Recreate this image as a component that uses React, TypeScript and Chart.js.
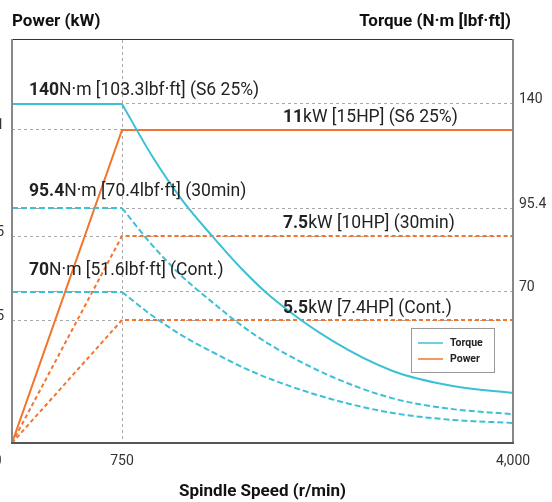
import React, { useEffect, useRef } from 'react';
import { Chart, registerables, LinearScale } from 'chart.js';

// ---- data ----
const SPEED = [0, 750, 1000, 1250, 1500, 1750, 2000, 2500, 3000, 3500, 4000];
const TORQUE_S6 = [140, 140, 117.7, 98.8, 86.9, 76.8, 67.2, 47.3, 33.4, 26.4, 23.2];
const TORQUE_30MIN = [95.4, 95.4, 84.2, 74.7, 65.3, 54.2, 44.9, 30.6, 20.7, 15.7, 13.4];
const TORQUE_CONT = [70, 70, 59.1, 49.8, 42.2, 35.2, 29.3, 20.2, 13.9, 10.7, 9.3];
const POWER_SPEED = [0, 750, 4000];
const POWER_S6 = [0, 11, 11];
const POWER_30MIN = [0, 7.5, 7.5];
const POWER_CONT = [0, 5.5, 5.5];
const SPEED_TICKS = [0, 750, 4000];
const TORQUE_TICKS = [70, 95.4, 140];
const POWER_TICKS = [5.5, 7.5, 11];

const TORQUE_LABELS = [
  { value: 140, bold: '140', rest: 'N·m [103.3lbf·ft] (S6 25%)' },
  { value: 95.4, bold: '95.4', rest: 'N·m [70.4lbf·ft] (30min)' },
  { value: 70, bold: '70', rest: 'N·m [51.6lbf·ft] (Cont.)' },
];
const POWER_LABELS = [
  { value: 11, bold: '11', rest: 'kW [15HP] (S6 25%)' },
  { value: 7.5, bold: '7.5', rest: 'kW [10HP] (30min)' },
  { value: 5.5, bold: '5.5', rest: 'kW [7.4HP] (Cont.)' },
];

// ---- styling / layout ----
const CYAN = '#3cc0d6';
const ORANGE = '#f3742c';
const FONT = "Roboto, 'DejaVu Sans', sans-serif";
const GRID = '#a8a8a8';
// value -> fraction of axis length (the reference axes are not linear)
const X_KNOTS = [[0, 0], [750, 0.2196], [4000, 1]];
const TORQUE_KNOTS = [[0, 0], [70, 0.3747], [95.4, 0.5831], [140, 0.8412], [170, 1]];
const POWER_KNOTS = [[0, 0], [5.5, 0.3052], [7.5, 0.5136], [11, 0.7767], [14.5, 1]];
const TORQUE_LABEL_OFF = [9, 12, 17];
const POWER_LABEL_OFF = [8, 8, 7];

function interp(k: number[][], v: number, from: number, to: number) {
  const n = k.length;
  let i = 0;
  while (i < n - 2 && v > k[i + 1][from]) i++;
  const a = k[i], b = k[i + 1];
  return a[to] + ((v - a[from]) * (b[to] - a[to])) / (b[from] - a[from]);
}

class PiecewiseScale extends LinearScale {
  static id = 'piecewise';
  static defaults = LinearScale.defaults;
  getPixelForValue(value: number) {
    const k = (this as any).options.knots as number[][];
    return (this as any).getPixelForDecimal(interp(k, value, 0, 1));
  }
  getValueForPixel(pixel: number) {
    const k = (this as any).options.knots as number[][];
    return interp(k, (this as any).getDecimalForPixel(pixel), 1, 0);
  }
}

Chart.register(...registerables, PiecewiseScale as any);

const pts = (xs: number[], ys: number[]) => xs.map((x, i) => ({ x, y: ys[i] }));

function torqueSets(label: string, ys: number[], dash: number[]) {
  const common = {
    label,
    yAxisID: 'torque',
    xAxisID: 'x',
    borderColor: CYAN,
    backgroundColor: CYAN,
    borderWidth: 2,
    borderDash: dash,
    pointRadius: 0,
    fill: false,
  };
  return [
    { ...common, data: pts(SPEED.slice(0, 2), ys.slice(0, 2)), tension: 0 },
    { ...common, data: pts(SPEED.slice(1), ys.slice(1)), cubicInterpolationMode: 'monotone' },
  ];
}
function powerSet(label: string, ys: number[], dash: number[]) {
  return {
    label,
    yAxisID: 'power',
    xAxisID: 'x',
    borderColor: ORANGE,
    backgroundColor: ORANGE,
    borderWidth: 2,
    borderDash: dash,
    pointRadius: 0,
    tension: 0,
    fill: false,
    data: pts(POWER_SPEED, ys),
  };
}

const decorPlugin = {
  id: 'decor',
  afterDatasetsDraw(chart: any) {
    const { ctx, chartArea: ca, scales } = chart;
    ctx.save();
    // frame
    ctx.setLineDash([]);
    ctx.lineWidth = 1;
    ctx.strokeStyle = '#333';
    ctx.beginPath();
    ctx.moveTo(ca.left, ca.top - 0.5);
    ctx.lineTo(ca.right, ca.top - 0.5);
    ctx.stroke();
    ctx.lineWidth = 2;
    ctx.strokeStyle = '#888';
    ctx.beginPath();
    ctx.moveTo(ca.left, ca.top - 1);
    ctx.lineTo(ca.left, ca.bottom);
    ctx.moveTo(ca.right, ca.top - 1);
    ctx.lineTo(ca.right, ca.bottom);
    ctx.stroke();
    ctx.strokeStyle = '#555';
    ctx.beginPath();
    ctx.moveTo(ca.left - 1, ca.bottom);
    ctx.lineTo(ca.right + 1, ca.bottom);
    ctx.stroke();

    // annotations
    const drawLabel = (x: number, y: number, bold: string, rest: string) => {
      ctx.fillStyle = '#222';
      ctx.textBaseline = 'alphabetic';
      ctx.textAlign = 'left';
      ctx.font = `bold 17.5px ${FONT}`;
      ctx.fillText(bold, x, y);
      const w = ctx.measureText(bold).width;
      ctx.font = `17.5px ${FONT}`;
      ctx.fillText(rest, x + w, y);
    };
    TORQUE_LABELS.forEach((l, i) => {
      const y = scales.torque.getPixelForValue(l.value) - TORQUE_LABEL_OFF[i];
      drawLabel(ca.left + 17, y, l.bold, l.rest);
    });
    POWER_LABELS.forEach((l, i) => {
      const y = scales.power.getPixelForValue(l.value) - POWER_LABEL_OFF[i];
      drawLabel(ca.left + 271, y, l.bold, l.rest);
    });

    // titles
    ctx.fillStyle = '#111';
    ctx.font = `bold 17px ${FONT}`;
    ctx.textAlign = 'left';
    ctx.fillText('Power (kW)', ca.left, 26);
    ctx.textAlign = 'right';
    ctx.fillText('Torque (N·m [lbf·ft])', ca.right - 2, 26);

    // legend
    const bx = ca.right - 19 - 83;
    const by = ca.bottom - 115;
    ctx.fillStyle = '#fff';
    ctx.fillRect(bx, by, 83, 44);
    ctx.lineWidth = 1;
    ctx.strokeStyle = '#999';
    ctx.strokeRect(bx + 0.5, by + 0.5, 83, 44);
    const items = [
      { label: 'Torque', color: CYAN, y: by + 15 },
      { label: 'Power', color: ORANGE, y: by + 31 },
    ];
    items.forEach((it) => {
      ctx.strokeStyle = it.color;
      ctx.lineWidth = 1.5;
      ctx.beginPath();
      ctx.moveTo(bx + 7, it.y);
      ctx.lineTo(bx + 32, it.y);
      ctx.stroke();
      ctx.fillStyle = '#222';
      ctx.font = `bold 10.5px ${FONT}`;
      ctx.textAlign = 'left';
      ctx.textBaseline = 'middle';
      ctx.fillText(it.label, bx + 39, it.y);
    });
    ctx.restore();
  },
};

export default function App() {
  const ref = useRef<HTMLCanvasElement | null>(null);
  useEffect(() => {
    document.body.style.margin = '0';
    const canvas = ref.current;
    if (!canvas) return;
    const tickFont = { family: FONT, size: 14 };
    const chart = new Chart(canvas, {
      type: 'line',
      data: {
        datasets: [
          ...torqueSets('Torque', TORQUE_S6, []),
          ...torqueSets('Torque 30min', TORQUE_30MIN, [6, 3]),
          ...torqueSets('Torque Cont.', TORQUE_CONT, [6, 3]),
          powerSet('Power', POWER_S6, []),
          powerSet('Power 30min', POWER_30MIN, [4, 3]),
          powerSet('Power Cont.', POWER_CONT, [4, 3]),
        ] as any,
      },
      options: {
        animation: false,
        responsive: false,
        layout: { padding: { top: 40, left: 0, right: 0, bottom: 0 } },
        plugins: { legend: { display: false }, tooltip: { enabled: false } },
        scales: {
          x: {
            type: 'piecewise' as any,
            knots: X_KNOTS,
            min: 0,
            max: 4000,
            bounds: 'data',
            afterBuildTicks: (s: any) => {
              s.ticks = SPEED_TICKS.map((v) => ({ value: v }));
            },
            afterFit: (s: any) => {
              s.height = 59;
            },
            grid: {
              drawTicks: false,
              color: (c: any) => (c.tick && c.tick.value === 750 ? GRID : 'rgba(0,0,0,0)'),
              lineWidth: 1,
            },
            border: { display: false, dash: [3, 3] },
            ticks: {
              padding: 10,
              color: '#333',
              font: tickFont,
              maxRotation: 0,
              autoSkip: false,
              callback: (v: any) => (v === 0 ? '0\u2002\u2002\u2002\u2002' : Number(v).toLocaleString('en-US')),
            },
            title: {
              display: true,
              text: 'Spindle Speed (r/min)',
              color: '#111',
              font: { family: FONT, size: 17, weight: 'bold' },
              padding: { top: 1, bottom: 0 },
            },
          } as any,
          power: {
            type: 'piecewise' as any,
            position: 'left',
            knots: POWER_KNOTS,
            min: 0,
            max: 14.5,
            bounds: 'data',
            afterBuildTicks: (s: any) => {
              s.ticks = POWER_TICKS.map((v) => ({ value: v }));
            },
            afterFit: (s: any) => {
              s.width = 40;
            },
            grid: { drawTicks: false, color: GRID, lineWidth: 1 },
            border: { display: false, dash: [3, 3] },
            ticks: {
              padding: 8,
              labelOffset: -4,
              color: '#333',
              font: tickFont,
              autoSkip: false,
              callback: (v: any) => String(v),
            },
          } as any,
          torque: {
            type: 'piecewise' as any,
            position: 'right',
            knots: TORQUE_KNOTS,
            min: 0,
            max: 170,
            bounds: 'data',
            afterBuildTicks: (s: any) => {
              s.ticks = TORQUE_TICKS.map((v) => ({ value: v }));
            },
            afterFit: (s: any) => {
              s.width = 39;
            },
            grid: { drawTicks: false, color: GRID, lineWidth: 1 },
            border: { display: false, dash: [3, 3] },
            ticks: {
              padding: 6,
              labelOffset: -4,
              color: '#333',
              font: tickFont,
              autoSkip: false,
              callback: (v: any) => String(v),
            },
          } as any,
        },
      } as any,
      plugins: [decorPlugin],
    });
    return () => chart.destroy();
  }, []);
  return (
    <div style={{ position: 'relative', width: 552, height: 502, overflow: 'hidden' }}>
      <canvas
        ref={ref}
        width={580}
        height={502}
        style={{ position: 'absolute', left: -28, top: 0, width: 580, height: 502 }}
      />
    </div>
  );
}
